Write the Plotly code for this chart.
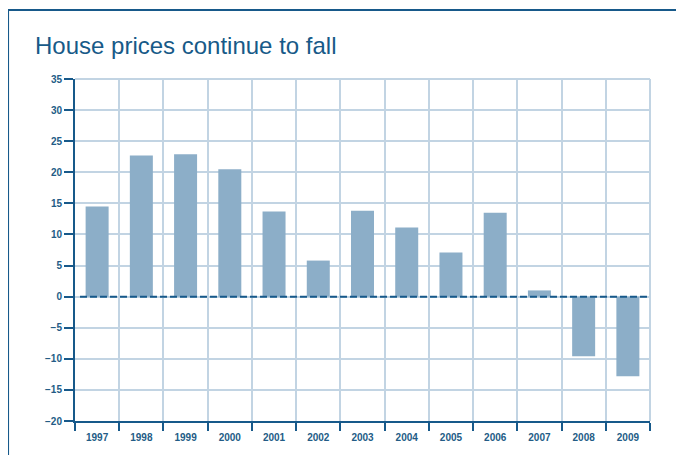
import plotly.graph_objects as go

years = ["1997", "1998", "1999", "2000", "2001", "2002", "2003",
         "2004", "2005", "2006", "2007", "2008", "2009"]
changes = [14.5, 22.7, 22.9, 20.5, 13.7, 5.8, 13.8, 11.1, 7.1, 13.5, 1.0, -9.6, -12.8]
y_ticks = [-20, -15, -10, -5, 0, 5, 10, 15, 20, 25, 30, 35]
title_text = "House prices continue to fall"

DARK = "#17598a"
TEXT = "#235c86"
GRID = "#c2d4e3"
BAR = "#8caec8"

OFF = 8  # page body margin
W, H = 684 - OFF, 455 - OFF
# plot area in screen pixels
SX0, SX1, SY0, SY1 = 75, 650.5, 79, 421
L, T = SX0 - OFF, SY0 - OFF
pw, ph = SX1 - SX0, SY1 - SY0
R, B = W - L - pw, H - T - ph

def px(x):
    return (x - SX0) / pw

def py(y):
    return (SY1 - y) / ph

fig = go.Figure(go.Bar(
    x=years, y=changes, marker=dict(color=BAR, line=dict(width=0)),
    width=0.52, hoverinfo="x+y",
))

fig.update_layout(
    width=W, height=H,
    margin=dict(l=L, r=R, t=T, b=B),
    plot_bgcolor="white", paper_bgcolor="white",
    showlegend=False,
    font=dict(family="Liberation Sans, Arial, sans-serif", color=TEXT),
)

fig.update_xaxes(
    type="category", tickson="boundaries",
    ticks="outside", ticklen=8, tickwidth=2, tickcolor=DARK,
    showline=True, linecolor=DARK, linewidth=2,
    showgrid=True, gridcolor=GRID, gridwidth=2,
    tickfont=dict(size=10, color=TEXT, family="Liberation Sans, Arial, sans-serif", weight="bold"),
    ticklabelstandoff=6,
    range=[-0.5, 12.5],
)
fig.update_yaxes(
    range=[-20, 35], tickvals=y_ticks,
    ticks="outside", ticklen=9, tickwidth=2, tickcolor=DARK,
    showline=True, linecolor=DARK, linewidth=2,
    showgrid=True, gridcolor=GRID, gridwidth=2,
    zeroline=False,
    tickfont=dict(size=10, color=TEXT, family="Liberation Sans, Arial, sans-serif", weight="bold"),
)

shapes = [
    dict(type="line", xref="paper", yref="y", x0=px(80), x1=1, y0=0, y1=0,
         line=dict(color=DARK, width=2, dash="7px,3px"), layer="above"),
    dict(type="line", xref="paper", yref="paper", x0=1, x1=1, y0=0, y1=1,
         line=dict(color=GRID, width=2), layer="below"),
    dict(type="line", xref="paper", yref="paper", x0=0, x1=1, y0=1, y1=1,
         line=dict(color=GRID, width=2), layer="below"),
    # frame
    dict(type="line", xref="paper", yref="paper", x0=px(7), x1=px(700), y0=py(10), y1=py(10),
         line=dict(color=DARK, width=2)),
    dict(type="line", xref="paper", yref="paper", x0=px(8), x1=px(8), y0=py(9), y1=py(470),
         line=dict(color=DARK, width=2)),
]
fig.update_layout(shapes=shapes)

fig.add_annotation(
    text=title_text, xref="paper", yref="paper",
    x=px(33), y=py(46), xanchor="left", yanchor="middle",
    showarrow=False,
    font=dict(size=24, color="#175a88", family="Liberation Sans, Arial, sans-serif"),
)

fig.write_html("out.html")
